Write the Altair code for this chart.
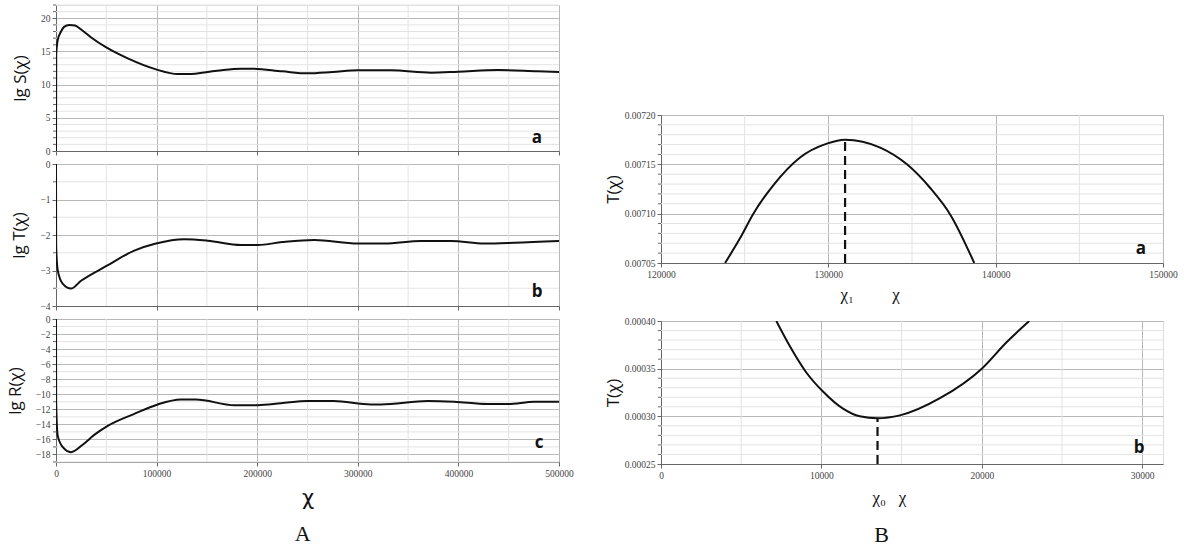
import altair as alt
import pandas as pd

# ---------------- data ----------------
# Figure A (a): lg S(chi)
s_x = [0, 200, 1700, 5000, 8000, 13200, 19000, 25000, 35000, 50000, 71300, 99400, 121000,
       131000, 160000, 184000, 195000, 225000, 250000, 275000, 300000, 333000, 372800,
       400000, 439000, 478800, 500000]
s_y = [0, 14.5, 16.7, 18.0, 18.7, 19.0, 18.9, 18.3, 17.1, 15.6, 13.95, 12.3, 11.6,
       11.6, 12.1, 12.4, 12.4, 12.0, 11.7, 11.9, 12.15, 12.15, 11.8,
       11.95, 12.2, 12.0, 11.9]
# Figure A (b): lg T(chi)
t_x = [0, 150, 1700, 6600, 14900, 24900, 49700, 77800, 99400, 127500, 150800, 184000,
       200500, 225000, 256800, 300000, 326500, 362800, 392600, 425800, 455600, 500000]
t_y = [0, -2.3, -2.99, -3.37, -3.51, -3.29, -2.88, -2.44, -2.24, -2.12, -2.16, -2.28,
       -2.28, -2.2, -2.14, -2.24, -2.24, -2.17, -2.17, -2.24, -2.22, -2.17]
# Figure A (c): lg R(chi)
r_x = [0, 150, 1700, 6600, 14900, 26500, 38000, 51400, 77800, 101100, 124300, 139000,
       177300, 200500, 223600, 250200, 276000, 313100, 323000, 369500, 396000, 429100,
       449000, 475500, 500000]
r_y = [0, -11, -15.5, -17.0, -17.7, -16.7, -15.4, -14.2, -12.6, -11.35, -10.7, -10.7,
       -11.45, -11.45, -11.2, -10.9, -10.9, -11.35, -11.35, -10.9, -11.0, -11.3,
       -11.3, -11.0, -11.0]
# Figure B (a): T(chi) near the maximum
ba_x = [123830, 124720, 125520, 126720, 128310, 129910, 131000, 133100, 134700, 136090,
        137290, 138720]
ba_y = [0.00705, 0.007075, 0.0071, 0.007129, 0.007157, 0.007171, 0.007175, 0.007167,
        0.00715, 0.007126, 0.007099, 0.00705]
chi1 = 131000
chi1_t = 0.007175
# Figure B (b): T(chi) near the minimum
bb_x = [7190, 8020, 9060, 10100, 11350, 12390, 13500, 14890, 17390, 20000, 21560, 22960]
bb_y = [0.0004, 0.000374, 0.000346, 0.000326, 0.000308, 0.0003, 0.000298, 0.000301,
        0.000319, 0.00035, 0.000378, 0.0004]
chi0 = 13500
chi0_t = 0.000298

# axis ticks / grid values
a_xmajor = [0, 100000, 200000, 300000, 400000, 500000]
a_xminor = [50000, 150000, 250000, 350000, 450000]
sa_major = [0, 5, 10, 15, 20]
sa_minor = [v for v in range(0, 23) if v % 5 != 0]
sb_major = [0, -1, -2, -3, -4]
sb_minor = [-0.5, -1.5, -2.5, -3.5]
sc_major = [0, -2, -4, -6, -8, -10, -12, -14, -16, -18]
sc_minor = [-1, -3, -5, -7, -9, -11, -13, -15, -17, -19]
ba_xmajor = [120000, 130000, 140000, 150000]
ba_xminor = [125000, 135000, 145000]
ba_ymajor = [0.00705, 0.0071, 0.00715, 0.0072]
ba_yminor = [0.00706, 0.00707, 0.00708, 0.00709, 0.00711, 0.00712, 0.00713, 0.00714,
             0.00716, 0.00717, 0.00718, 0.00719]
bb_xmajor = [0, 10000, 20000, 30000]
bb_xminor = [5000, 15000, 25000]
bb_ymajor = [0.00025, 0.0003, 0.00035, 0.0004]
bb_yminor = [0.00026, 0.00027, 0.00028, 0.00029, 0.00031, 0.00032, 0.00033, 0.00034,
             0.00036, 0.00037, 0.00038, 0.00039]

TICK_FONT = "Liberation Serif"
TITLE_FONT = "Open Sans"


def panel(xs, ys, xdom, ydom, xmajor, xminor, ymajor, yminor, w, h, ytitle, letter,
          letter_dx, letter_dy, xlabels=True, xtitle=None, yfmt=None, dash=None,
          xtitle_x=None, ytitle_pad=11, xtitle_font="Liberation Serif",
          xtitle_size=17, xtitle_pad=8):
    xscale = alt.Scale(domain=xdom, nice=False, zero=False)
    yscale = alt.Scale(domain=ydom, nice=False, zero=False)
    xaxis_kw = dict(values=xmajor, grid=True, gridColor="#b8b8b8", domainColor="#666",
                    tickColor="#666", tickSize=4, labels=xlabels, labelFont=TICK_FONT,
                    labelFontSize=9.5, labelColor="#444", labelPadding=2, format="d",
                    labelFlush=False)
    if xtitle is not None:
        xaxis_kw.update(titleFont=xtitle_font, titleFontSize=xtitle_size,
                        titleFontWeight="normal", titleColor="#111",
                        titlePadding=xtitle_pad)
        if xtitle_x is not None:
            xaxis_kw.update(titleX=xtitle_x, titleAlign="left", titleAnchor="start")
    yaxis_kw = dict(values=ymajor, grid=True, gridColor="#b8b8b8", domainColor="#666",
                    tickColor="#666", tickSize=4, labelFont=TICK_FONT, labelFontSize=9.5,
                    labelColor="#444", labelPadding=2, titleFont=TITLE_FONT,
                    titleFontSize=17, titleFontWeight="normal", titleColor="#111",
                    titlePadding=ytitle_pad, labelFlush=False)
    if yfmt:
        yaxis_kw["format"] = yfmt
    X = dict(field="x", type="quantitative", scale=xscale, title=xtitle,
             axis=alt.Axis(**xaxis_kw))
    Y = dict(field="y", type="quantitative", scale=yscale, title=ytitle,
             axis=alt.Axis(**yaxis_kw))
    vgrid = alt.Chart(pd.DataFrame({"x": xminor})).mark_rule(
        color="#e3e3e3", strokeWidth=1).encode(x=alt.X(**X))
    hgrid = alt.Chart(pd.DataFrame({"y": yminor})).mark_rule(
        color="#e3e3e3", strokeWidth=1).encode(y=alt.Y(**Y))
    yticks = alt.Chart(pd.DataFrame({"y": yminor})).mark_rule(
        color="#666", strokeWidth=1).encode(
        y=alt.Y(**Y), x=alt.value(-3), x2=alt.value(0))
    line = alt.Chart(pd.DataFrame({"x": xs, "y": ys})).mark_line(
        color="#111", strokeWidth=2, interpolate="monotone", clip=True).encode(
        x=alt.X(**X), y=alt.Y(**Y))
    layers = [vgrid, hgrid, yticks, line]
    if dash is not None:
        dx, dy0, dy1 = dash
        rule = alt.Chart(pd.DataFrame({"x": [dx], "y": [dy0], "y2": [dy1]})).mark_rule(
            color="#111", strokeWidth=2.2, strokeDash=[9, 5]).encode(
            x=alt.X(**X), y=alt.Y(**Y), y2="y2:Q")
        layers.append(rule)
    lab = alt.Chart(pd.DataFrame({"t": [letter]})).mark_text(
        font=TITLE_FONT, fontSize=17, fontWeight="bold", color="#111",
        align="center", baseline="middle").encode(
        text="t:N", x=alt.value(w - letter_dx), y=alt.value(h - letter_dy))
    layers.append(lab)
    return alt.layer(*layers).properties(width=w, height=h)


LW = 503
pa = panel(s_x, s_y, [0, 500000], [0, 22], a_xmajor, a_xminor, sa_major, sa_minor,
           LW, 146, "lg S(χ)", "a", 22, 13, xlabels=False)
pb = panel(t_x, t_y, [0, 500000], [-4, 0], a_xmajor, a_xminor, sb_major, sb_minor,
           LW, 142, "lg T(χ)", "b", 22, 14, xlabels=False)
pc = panel(r_x, r_y, [0, 500000], [-19, 0], a_xmajor, a_xminor, sc_major, sc_minor,
           LW, 143, "lg R(χ)", "c", 20, 19, xtitle="χ", xtitle_font="DejaVu Sans",
           xtitle_size=21, xtitle_pad=10)

RW = 502
ra = panel(ba_x, ba_y, [120000, 150000], [0.00705, 0.0072], ba_xmajor, ba_xminor,
           ba_ymajor, ba_yminor, RW, 148, "T(χ)", "a", 22, 14,
           xtitle="χ₁\u2003\u2003 χ", yfmt=".5f", dash=(chi1, 0.00705, chi1_t),
           xtitle_x=179, ytitle_pad=2)
rb = panel(bb_x, bb_y, [0, 31300], [0.00025, 0.0004], bb_xmajor, bb_xminor,
           bb_ymajor, bb_yminor, RW, 143, "T(χ)", "b", 24, 16,
           xtitle="χ₀\u2002 χ", yfmt=".5f", dash=(chi0, 0.00025, chi0_t),
           xtitle_x=211, ytitle_pad=2, xtitle_pad=10)

spacer = alt.Chart(pd.DataFrame({"x": [0]})).mark_point(opacity=0).properties(
    width=RW, height=92, view=alt.ViewBackground(strokeOpacity=0))

left = alt.vconcat(pa, pb, pc, spacing=2).properties(
    title=alt.TitleParams("A", orient="bottom", anchor="middle", font="Liberation Serif",
                          fontSize=22, fontWeight="normal", color="#111", dx=13,
                          offset=15))
right = alt.vconcat(spacer, ra, rb, spacing=12).properties(
    title=alt.TitleParams("B", orient="bottom", anchor="middle", font="Liberation Serif",
                          fontSize=22, fontWeight="normal", color="#111", dx=-9,
                          offset=19))

chart = alt.hconcat(left, right, spacing=29).properties(
    padding={"left": 5, "top": 4, "right": 0, "bottom": 0}
).configure_view(stroke="#777", strokeWidth=1.5).configure(background="white")

chart.save("out.html", embed_options={"renderer": "svg", "actions": False})
